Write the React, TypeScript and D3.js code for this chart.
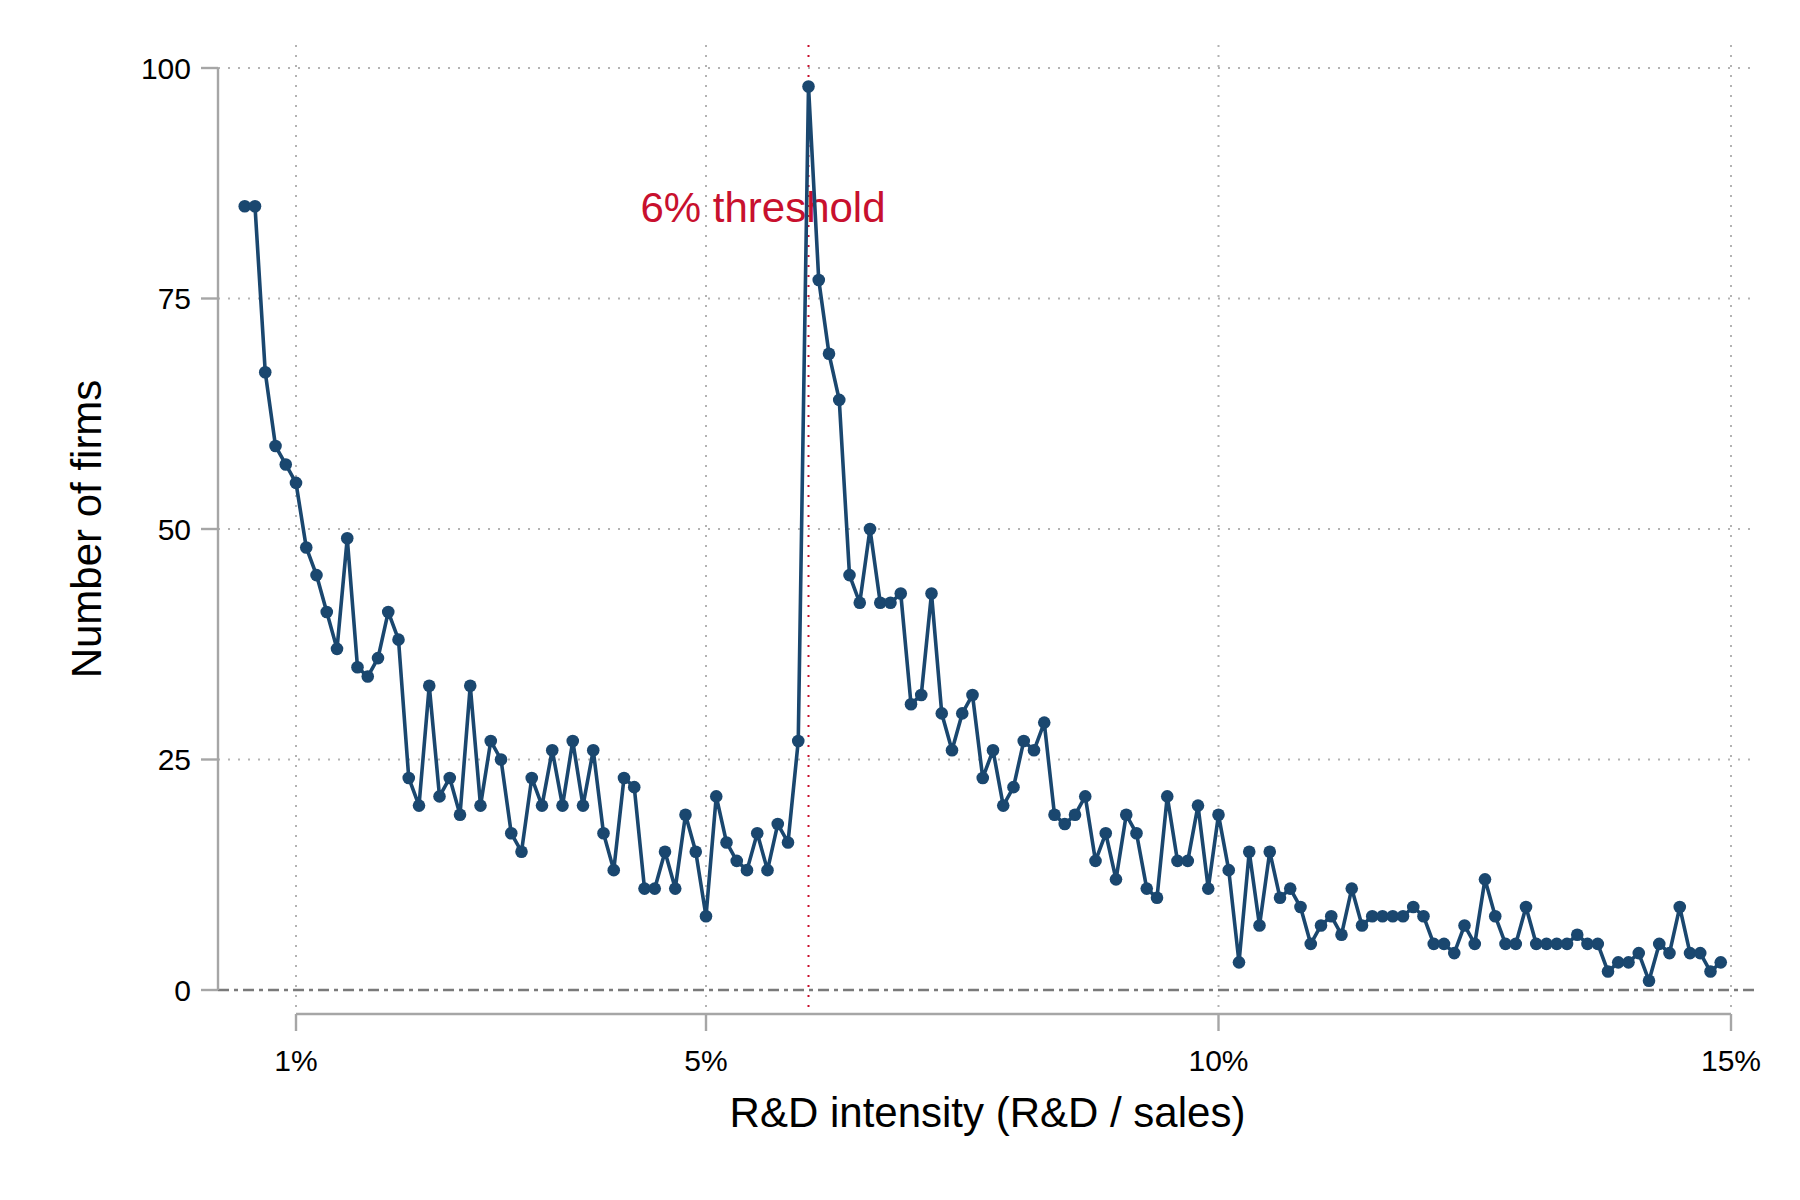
import React, { useEffect, useRef } from "react";
import * as d3 from "d3";

// R&D intensity bins (% of sales), one per 0.1 point
const rdIntensity = [
  0.5, 0.6, 0.7, 0.8, 0.9,
  1.0, 1.1, 1.2, 1.3, 1.4, 1.5, 1.6, 1.7, 1.8, 1.9,
  2.0, 2.1, 2.2, 2.3, 2.4, 2.5, 2.6, 2.7, 2.8, 2.9,
  3.0, 3.1, 3.2, 3.3, 3.4, 3.5, 3.6, 3.7, 3.8, 3.9,
  4.0, 4.1, 4.2, 4.3, 4.4, 4.5, 4.6, 4.7, 4.8, 4.9,
  5.0, 5.1, 5.2, 5.3, 5.4, 5.5, 5.6, 5.7, 5.8, 5.9,
  6.0, 6.1, 6.2, 6.3, 6.4, 6.5, 6.6, 6.7, 6.8, 6.9,
  7.0, 7.1, 7.2, 7.3, 7.4, 7.5, 7.6, 7.7, 7.8, 7.9,
  8.0, 8.1, 8.2, 8.3, 8.4, 8.5, 8.6, 8.7, 8.8, 8.9,
  9.0, 9.1, 9.2, 9.3, 9.4, 9.5, 9.6, 9.7, 9.8, 9.9,
  10.0, 10.1, 10.2, 10.3, 10.4, 10.5, 10.6, 10.7, 10.8, 10.9,
  11.0, 11.1, 11.2, 11.3, 11.4, 11.5, 11.6, 11.7, 11.8, 11.9,
  12.0, 12.1, 12.2, 12.3, 12.4, 12.5, 12.6, 12.7, 12.8, 12.9,
  13.0, 13.1, 13.2, 13.3, 13.4, 13.5, 13.6, 13.7, 13.8, 13.9,
  14.0, 14.1, 14.2, 14.3, 14.4, 14.5, 14.6, 14.7, 14.8, 14.9,
];

const firmCounts = [
  85, 85, 67, 59, 57,
  55, 48, 45, 41, 37, 49, 35, 34, 36, 41,
  38, 23, 20, 33, 21, 23, 19, 33, 20, 27,
  25, 17, 15, 23, 20, 26, 20, 27, 20, 26,
  17, 13, 23, 22, 11, 11, 15, 11, 19, 15,
  8, 21, 16, 14, 13, 17, 13, 18, 16, 27,
  98, 77, 69, 64, 45, 42, 50, 42, 42, 43,
  31, 32, 43, 30, 26, 30, 32, 23, 26, 20,
  22, 27, 26, 29, 19, 18, 19, 21, 14, 17,
  12, 19, 17, 11, 10, 21, 14, 14, 20, 11,
  19, 13, 3, 15, 7, 15, 10, 11, 9, 5,
  7, 8, 6, 11, 7, 8, 8, 8, 8, 9,
  8, 5, 5, 4, 7, 5, 12, 8, 5, 5,
  9, 5, 5, 5, 5, 6, 5, 5, 2, 3,
  3, 4, 1, 5, 4, 9, 4, 4, 2, 3,
];

const xTicks = [1, 5, 10, 15];
const yTicks = [0, 25, 50, 75, 100];
const threshold = 6;
const thresholdLabel = "6% threshold";

const W = 1800;
const H = 1200;
const FONT = "'Liberation Sans', Arial, Helvetica, sans-serif";
const NAVY = "#1a476f";
const RED = "#c8102e";

const App: React.FC = () => {
  const svgRef = useRef<SVGSVGElement>(null);

  useEffect(() => {
    if (!svgRef.current) return;
    const svg = d3.select(svgRef.current);
    svg.selectAll("*").remove();

    // plot region
    const region = { left: 218, right: 1757, top: 45, bottom: 1008 };

    const x = d3.scaleLinear().domain([1, 15]).range([296, 1731]);
    const y = d3.scaleLinear().domain([0, 100]).range([990, 68]);

    svg.append("rect").attr("width", W).attr("height", H).attr("fill", "#fff");

    // gridlines
    svg
      .selectAll(".hgrid")
      .data(yTicks.filter((d) => d > 0))
      .enter()
      .append("line")
      .attr("x1", region.left)
      .attr("x2", region.right)
      .attr("y1", (d) => y(d))
      .attr("y2", (d) => y(d))
      .attr("stroke", "#b3b3b3")
      .attr("stroke-width", 2)
      .attr("stroke-dasharray", "2 8");

    svg
      .selectAll(".vgrid")
      .data(xTicks)
      .enter()
      .append("line")
      .attr("x1", (d) => x(d))
      .attr("x2", (d) => x(d))
      .attr("y1", region.top)
      .attr("y2", region.bottom)
      .attr("stroke", "#b3b3b3")
      .attr("stroke-width", 2)
      .attr("stroke-dasharray", "2 8");

    // zero line
    svg
      .append("line")
      .attr("x1", region.left)
      .attr("x2", region.right)
      .attr("y1", y(0))
      .attr("y2", y(0))
      .attr("stroke", "#7a7a7a")
      .attr("stroke-width", 2.5)
      .attr("stroke-dasharray", "11 5 4 5");

    // threshold line
    svg
      .append("line")
      .attr("x1", x(threshold))
      .attr("x2", x(threshold))
      .attr("y1", region.top)
      .attr("y2", region.bottom)
      .attr("stroke", RED)
      .attr("stroke-width", 2)
      .attr("stroke-dasharray", "2 8");

    svg
      .append("text")
      .attr("x", x(4.36))
      .attr("y", y(83.3))
      .attr("fill", RED)
      .attr("font-family", FONT)
      .attr("font-size", 42)
      .text(thresholdLabel);

    // y axis
    const yAxis = svg.append("g").attr("stroke", "#a6a6a6").attr("stroke-width", 2.4);
    yAxis
      .append("line")
      .attr("x1", region.left)
      .attr("x2", region.left)
      .attr("y1", y(100))
      .attr("y2", y(0));
    yAxis
      .selectAll(".ytick")
      .data(yTicks)
      .enter()
      .append("line")
      .attr("x1", region.left - 17)
      .attr("x2", region.left)
      .attr("y1", (d) => y(d))
      .attr("y2", (d) => y(d));
    svg
      .selectAll(".ylab")
      .data(yTicks)
      .enter()
      .append("text")
      .attr("x", 191)
      .attr("y", (d) => y(d))
      .attr("dy", "0.35em")
      .attr("text-anchor", "end")
      .attr("font-family", FONT)
      .attr("font-size", 30)
      .attr("fill", "#000")
      .text((d) => d);

    // x axis
    const axisY = 1014;
    const xAxis = svg.append("g").attr("stroke", "#a6a6a6").attr("stroke-width", 2.4);
    xAxis
      .append("line")
      .attr("x1", x(1))
      .attr("x2", x(15))
      .attr("y1", axisY)
      .attr("y2", axisY);
    xAxis
      .selectAll(".xtick")
      .data(xTicks)
      .enter()
      .append("line")
      .attr("x1", (d) => x(d))
      .attr("x2", (d) => x(d))
      .attr("y1", axisY)
      .attr("y2", axisY + 17);
    svg
      .selectAll(".xlab")
      .data(xTicks)
      .enter()
      .append("text")
      .attr("x", (d) => x(d))
      .attr("y", 1071)
      .attr("text-anchor", "middle")
      .attr("font-family", FONT)
      .attr("font-size", 30)
      .attr("fill", "#000")
      .text((d) => `${d}%`);

    // axis titles
    svg
      .append("text")
      .attr("x", (region.left + region.right) / 2)
      .attr("y", 1127)
      .attr("text-anchor", "middle")
      .attr("font-family", FONT)
      .attr("font-size", 42)
      .attr("fill", "#000")
      .text("R&D intensity (R&D / sales)");

    svg
      .append("text")
      .attr("transform", `translate(101, ${(y(0) + y(100)) / 2}) rotate(-90)`)
      .attr("text-anchor", "middle")
      .attr("font-family", FONT)
      .attr("font-size", 42)
      .attr("fill", "#000")
      .text("Number of firms");

    // series
    const data = rdIntensity.map((v, i) => ({ x: v, y: firmCounts[i] }));
    const line = d3
      .line<{ x: number; y: number }>()
      .x((d) => x(d.x))
      .y((d) => y(d.y));

    svg
      .append("path")
      .datum(data)
      .attr("fill", "none")
      .attr("stroke", NAVY)
      .attr("stroke-width", 3.6)
      .attr("stroke-linejoin", "round")
      .attr("d", line);

    svg
      .selectAll(".dot")
      .data(data)
      .enter()
      .append("circle")
      .attr("cx", (d) => x(d.x))
      .attr("cy", (d) => y(d.y))
      .attr("r", 6.3)
      .attr("fill", NAVY);
  }, []);

  return (
    <div style={{ position: "absolute", left: 0, top: 0 }}>
      <svg ref={svgRef} width={W} height={H} style={{ display: "block" }} />
    </div>
  );
};

export default App;
